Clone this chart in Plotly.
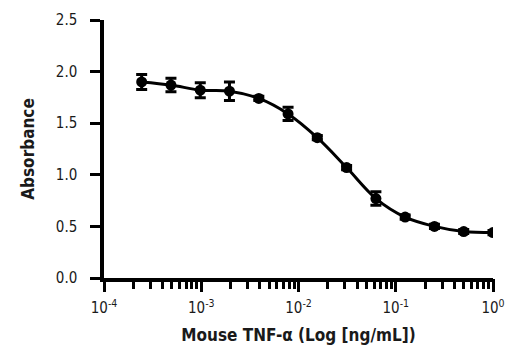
import plotly.graph_objects as go

concentration = [0.000244, 0.000488, 0.000977, 0.00195, 0.00391, 0.00781,
                 0.0156, 0.03125, 0.0625, 0.125, 0.25, 0.5, 1.0]
absorbance = [1.90, 1.87, 1.82, 1.81, 1.74, 1.59, 1.36, 1.07, 0.77, 0.59, 0.50, 0.45, 0.44]
error = [0.073, 0.065, 0.073, 0.090, 0.02, 0.065, 0.02, 0.02, 0.065, 0.02, 0.02, 0.02, 0.02]

x_tickvals = [1e-4, 1e-3, 1e-2, 1e-1, 1e0]
x_ticktext = ["10<sup>-4</sup>", "10<sup>-3</sup>", "10<sup>-2</sup>", "10<sup>-1</sup>", "10<sup>0</sup>"]
y_tickvals = [0.0, 0.5, 1.0, 1.5, 2.0, 2.5]
y_ticktext = ["0.0", "0.5", "1.0", "1.5", "2.0", "2.5"]

FONT = "Liberation Sans Narrow, DejaVu Sans Condensed, Arial Narrow, sans-serif"

fig = go.Figure()
fig.add_trace(go.Scatter(
    x=concentration, y=absorbance,
    mode="lines+markers",
    line=dict(color="black", width=3, shape="spline", smoothing=1),
    marker=dict(color="black", size=11, symbol="circle"),
    error_y=dict(type="data", array=error, visible=True, color="black", thickness=3, width=5.5),
    showlegend=False,
))
# empty helper traces for the overlay axes (long decade ticks; decade labels + title)
fig.add_trace(go.Scatter(x=[], y=[], xaxis="x2", yaxis="y", showlegend=False, hoverinfo="skip"))
fig.add_trace(go.Scatter(x=[], y=[], xaxis="x3", yaxis="y", showlegend=False, hoverinfo="skip"))

fig.update_layout(
    width=520, height=350,
    margin=dict(l=104, r=27, t=20, b=72),
    paper_bgcolor="white", plot_bgcolor="white",
    font=dict(family=FONT, color="#1a1a1a", size=14),
    # short ticks at every 1..9 x 10^n
    xaxis=dict(
        type="log", range=[-4, 0], automargin=False,
        showline=True, linecolor="black", linewidth=3.5,
        showgrid=False, zeroline=False,
        ticks="outside", ticklen=7, tickwidth=3, tickcolor="black",
        tickmode="linear", dtick="D1", showticklabels=False,
    ),
    # long ticks at each decade
    xaxis2=dict(
        type="log", range=[-4, 0], overlaying="x", side="bottom", anchor="y", automargin=False,
        showline=False, showgrid=False, zeroline=False,
        ticks="outside", ticklen=13, tickwidth=3, tickcolor="black",
        tickmode="linear", tick0=0, dtick=1, showticklabels=False,
    ),
    # decade labels and title
    xaxis3=dict(
        type="log", range=[-4, 0], overlaying="x", side="bottom", anchor="y", automargin=False,
        showline=False, showgrid=False, zeroline=False, ticks="",
        tickmode="array", tickvals=x_tickvals, ticktext=x_ticktext,
        tickfont=dict(family=FONT, size=15, color="#1a1a1a"),
        ticklabelstandoff=19,
        title=dict(text="<b>Mouse TNF-α (Log [ng/mL])</b>",
                   font=dict(family=FONT, size=17, color="#1a1a1a"), standoff=13),
    ),
    yaxis=dict(
        range=[0, 2.5], automargin=False,
        showline=True, linecolor="black", linewidth=3.5,
        showgrid=False, zeroline=False,
        ticks="outside", ticklen=10, tickwidth=3, tickcolor="black",
        tickvals=y_tickvals, ticktext=y_ticktext,
        tickfont=dict(family=FONT, size=15, color="#1a1a1a"),
        ticklabelstandoff=10,
        title=dict(text="<b>Absorbance</b>", font=dict(family=FONT, size=17, color="#1a1a1a"), standoff=18),
    ),
)

fig.write_html("out.html")
